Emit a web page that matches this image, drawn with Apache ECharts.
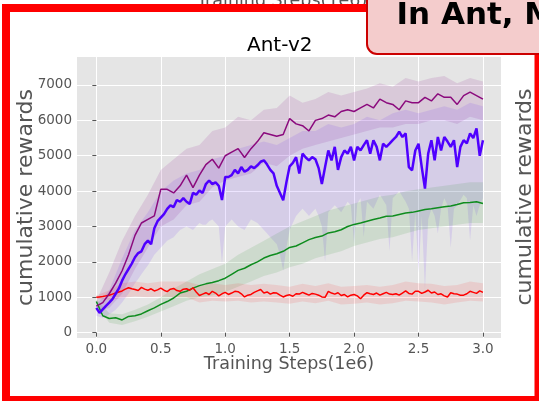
<!DOCTYPE html>
<html>
<head>
<meta charset="utf-8">
<script src="https://cdn.jsdelivr.net/npm/echarts@6/dist/echarts.min.js"></script>
<style>
html, body { margin: 0; padding: 0; background: #fff; }
#chart { width: 539px; height: 401px; }
</style>
</head>
<body>
<div id="chart"></div>
<script>
// Ant-v2 learning curves: mean cumulative reward and spread for four runs.
// Sample spacing along the x axis (units of 1e6 training steps).
const STEP_FINE = 0.025;
const STEP_LINE = 0.05;
const STEP_BAND = 0.1;

const xTicks = [0, 0.5, 1.0, 1.5, 2.0, 2.5, 3.0];
const yTicks = [0, 1000, 2000, 3000, 4000, 5000, 6000, 7000];

// Mean curves
const purpleMean = [
  750, 850, 1100, 1400, 1750, 2200, 2750, 3100, 3200, 3300,
  4050, 4050, 3950, 4150, 4450, 4100, 4450, 4750, 4900, 4650,
  5000, 5100, 5200, 4950, 5200, 5400, 5650, 5600, 5550, 5600,
  6050, 5900, 5850, 5700, 6000, 6050, 6150, 6100, 6250, 6300,
  6250, 6350, 6450, 6350, 6600, 6500, 6450, 6300, 6550, 6500,
  6500, 6650, 6550, 6750, 6650, 6650, 6450, 6700, 6800, 6700, 6600
];
const blueMean = [
  700, 560, 660, 760, 850, 950, 1100, 1250, 1470, 1650,
  1800, 1950, 2130, 2250, 2300, 2500, 2600, 2500, 2950, 3150,
  3250, 3350, 3500, 3600, 3550, 3750, 3700, 3800, 3700, 3640,
  3950, 3900, 4020, 3950, 4200, 4300, 4200, 4250, 4150, 3750,
  4400, 4400, 4450, 4600, 4500, 4680, 4550, 4600, 4700, 4650,
  4730, 4830, 4870, 4750, 4600, 4500, 4150, 3950, 3740, 4250,
  4700, 4800, 4960, 4500, 5060, 4950, 4870, 4960, 4900, 4650,
  4200, 4680, 5150, 4870, 5250, 4600, 4960, 5150, 5060, 5250,
  4870, 5250, 5150, 5300, 5440, 5060, 5440, 5250, 4870, 5340,
  5250, 5340, 5440, 5530, 5680, 5530, 5630, 4680, 4590, 5150,
  5340, 4680, 4070, 5060, 5440, 4870, 5530, 5150, 5530, 5400,
  5250, 5440, 4680, 5250, 5440, 5350, 5630, 5500, 5770, 5000, 5440
];
const greenMean = [
  880, 480, 400, 420, 360, 460, 480, 530, 620, 700,
  800, 880, 980, 1120, 1170, 1260, 1330, 1380, 1420, 1470,
  1540, 1650, 1760, 1820, 1920, 2000, 2110, 2180, 2230, 2300,
  2410, 2450, 2540, 2630, 2690, 2730, 2820, 2850, 2910, 3000,
  3060, 3100, 3150, 3200, 3240, 3290, 3300, 3340, 3380, 3400,
  3440, 3480, 3500, 3530, 3560, 3580, 3620, 3670, 3680, 3700, 3650
];
const redMean = [
  1000, 1010, 1020, 1040, 1060, 1090, 1120, 1150, 1180, 1230,
  1270, 1240, 1220, 1190, 1280, 1230, 1200, 1240, 1180, 1210,
  1260, 1200, 1160, 1230, 1250, 1190, 1170, 1230, 1240, 1200,
  1270, 1150, 1050, 1090, 1130, 1080, 1170, 1120, 1040, 1100,
  1140, 1080, 1120, 1170, 1160, 1100, 1010, 1060, 1080, 1140,
  1180, 1220, 1120, 1150, 1090, 1130, 1120, 1060, 1010, 1050,
  1070, 1030, 1100, 1090, 1140, 1100, 1060, 1110, 1090, 1060,
  1010, 1000, 1170, 1120, 1090, 1130, 1050, 1080, 1010, 1060,
  1080, 1040, 960, 1060, 1130, 1100, 1080, 1120, 1060, 1100,
  1140, 1090, 1080, 1100, 1060, 1120, 1180, 1110, 1090, 1170,
  1170, 1110, 1150, 1200, 1120, 1150, 1080, 1100, 1040, 1010,
  1130, 1100, 1090, 1060, 1060, 1100, 1170, 1140, 1110, 1180, 1140
];

// Spread bands (upper / lower edges)
const purpleUpper = [
  900, 1700, 2600, 3300, 3900, 4600, 4900, 5200, 5300, 5700,
  5800, 6100, 6000, 6300, 6350, 6700, 6500, 6600, 6800, 6700,
  6800, 6900, 7050, 6950, 7200, 7100, 7200, 7250, 7050, 7200, 7100
];
const purpleLower = [
  600, 700, 1100, 1800, 2400, 3000, 3200, 3600, 3700, 4100,
  4300, 4400, 4500, 4800, 4700, 5000, 5200, 5300, 5400, 5500,
  5600, 5700, 5800, 5800, 5900, 5900, 6000, 6000, 5900, 6100, 6000
];
const blueUpper = [
  800, 1200, 2100, 2900, 3400, 4000, 4300, 4500, 4600, 4900,
  5000, 5200, 5300, 5400, 5300, 5500, 5700, 5700, 5900, 5800,
  5900, 6100, 6000, 6200, 6300, 6200, 6300, 6400, 6300, 6500, 6400
];
const blueLower = [
  480, 440, 420, 460, 520, 580, 650, 750, 850, 980,
  1100, 1250, 1400, 1520, 1650, 1780, 1900, 2050, 2200, 2300,
  2400, 2500, 2600, 2650, 2700, 2800, 2900, 2950, 3000, 2950,
  2900, 3000, 3100, 3050, 3050, 3150, 3200, 3100, 3000, 1950,
  3000, 3100, 3200, 3100, 3000, 2950, 2900, 3050, 3200, 3150,
  3100, 3000, 2900, 2800, 2700, 2600, 2500, 2200, 1750, 2400,
  2900, 3100, 3300, 3400, 3500, 3400, 3300, 3400, 3500, 3300,
  3000, 2000, 3400, 3500, 3600, 3500, 3400, 3550, 3700, 3600,
  2500, 3650, 3800, 2700, 3700, 3600, 3500, 3700, 3900, 3750,
  3600, 2300, 3800, 3900, 4000, 3850, 3700, 3500, 2000, 3400,
  1700, 3300, 1200, 3200, 3500, 3300, 2800, 3500, 3800, 3600,
  2400, 3500, 3600, 3750, 3900, 3800, 2600, 3600, 3300, 3600, 3800
];
const greenUpper = [
  950, 550, 520, 650, 800, 1000, 1250, 1450, 1650, 1800,
  1950, 2200, 2400, 2600, 2800, 3000, 3150, 3300, 3450, 3550,
  3650, 3750, 3850, 3900, 4000, 4050, 4100, 4150, 4200, 4250, 4250
];
const greenLower = [
  800, 280, 220, 320, 450, 600, 750, 900, 1000, 1050,
  1150, 1300, 1450, 1600, 1700, 1850, 1950, 2100, 2200, 2300,
  2450, 2550, 2650, 2700, 2800, 2900, 2950, 3000, 3050, 3100, 3100
];
const redUpper = [
  1050, 1200, 1400, 1450, 1400, 1450, 1450, 1450, 1350, 1400,
  1350, 1400, 1350, 1380, 1350, 1300, 1380, 1320, 1400, 1300,
  1320, 1350, 1300, 1350, 1450, 1400, 1380, 1320, 1350, 1450, 1400
];
const redLower = [
  950, 930, 980, 1020, 1000, 1020, 1000, 1000, 850, 900,
  880, 900, 850, 880, 850, 820, 880, 830, 900, 800,
  820, 850, 800, 830, 900, 880, 850, 800, 850, 900, 880
];

const FONT = 'DejaVu Sans';
const LABEL_GRAY = '#555555';

function toPoints(values, step) {
  return values.map((v, i) => [+(i * step).toFixed(3), v]);
}

// Shaded spread drawn as a polygon through the axis scales
function bandSeries(name, upper, upperStep, lower, lowerStep, fill) {
  return {
    name: name,
    type: 'custom',
    coordinateSystem: 'cartesian2d',
    silent: true,
    z: 1,
    data: [[0, 0]],
    renderItem: function (params, api) {
      const pts = upper.map((v, i) => api.coord([i * upperStep, v]));
      for (let i = lower.length - 1; i >= 0; i--) {
        pts.push(api.coord([i * lowerStep, lower[i]]));
      }
      return { type: 'polygon', shape: { points: pts }, style: { fill: fill } };
    }
  };
}

function lineSeries(name, values, step, color, width, z) {
  return {
    name: name,
    type: 'line',
    data: toPoints(values, step),
    showSymbol: false,
    symbol: 'none',
    lineStyle: { color: color, width: width },
    z: z
  };
}

const chart = echarts.init(document.getElementById('chart'), null, { renderer: 'canvas' });

chart.setOption({
  animation: false,
  backgroundColor: '#ffffff',
  title: {
    text: 'Ant-v2',
    left: 247,
    top: 36,
    padding: 0,
    textStyle: { fontFamily: FONT, fontSize: 20, fontWeight: 'normal', color: '#000' }
  },
  grid: {
    left: 77, right: 38, top: 57, bottom: 63,
    show: true,
    backgroundColor: '#e5e5e5',
    borderWidth: 0,
    containLabel: false,
    outerBoundsMode: 'none'
  },
  xAxis: {
    type: 'value',
    min: -0.15,
    max: 3.14,
    name: 'Training Steps(1e6)',
    nameLocation: 'middle',
    nameGap: 17,
    nameMoveOverlap: false,
    nameTextStyle: { fontFamily: FONT, fontSize: 17.5, color: LABEL_GRAY },
    axisLine: { show: false },
    axisTick: { show: true, length: 4, customValues: xTicks, lineStyle: { color: LABEL_GRAY } },
    axisLabel: {
      customValues: xTicks,
      margin: 4,
      formatter: v => v.toFixed(1),
      fontFamily: FONT, fontSize: 13.5, color: LABEL_GRAY
    },
    splitLine: { show: true, lineStyle: { color: '#ffffff', width: 1 } }
  },
  yAxis: {
    type: 'value',
    min: -150,
    max: 7790,
    name: 'cumulative rewards',
    nameLocation: 'middle',
    nameRotate: 90,
    nameGap: 40,
    nameMoveOverlap: false,
    nameTextStyle: { fontFamily: FONT, fontSize: 22, color: LABEL_GRAY },
    axisLine: { show: false },
    axisTick: { show: true, length: 4, customValues: yTicks, lineStyle: { color: LABEL_GRAY } },
    axisLabel: {
      customValues: yTicks,
      margin: 5,
      formatter: v => String(v),
      fontFamily: FONT, fontSize: 13.5, color: LABEL_GRAY
    },
    splitLine: { show: true, lineStyle: { color: '#ffffff', width: 1 } }
  },
  graphic: [
    {
      type: 'text', x: 197, y: -8, z: 50,
      style: { text: 'Training Steps(1e6)', font: '17.5px "DejaVu Sans"', fill: LABEL_GRAY, align: 'left', verticalAlign: 'top' }
    },
    {
      type: 'text', x: 536.6, y: 197, rotation: Math.PI / 2, z: 50,
      style: { text: 'cumulative rewards', font: '22px "DejaVu Sans"', fill: LABEL_GRAY, align: 'center', verticalAlign: 'bottom' }
    },
    {
      type: 'rect', z: 100,
      shape: { x: 6, y: 8, width: 532.5, height: 392 },
      style: { fill: 'none', stroke: '#ff0000', lineWidth: 8 }
    },
    {
      type: 'rect', z: 110,
      shape: { x: 367, y: -20, width: 220, height: 74, r: 10 },
      style: { fill: '#f4cccc', stroke: '#cc0000', lineWidth: 2 }
    },
    {
      type: 'text', x: 396.5, y: 0.5, z: 111,
      style: { text: 'In Ant, M', font: 'bold 31px "DejaVu Sans"', fill: '#000', align: 'left', verticalAlign: 'top' }
    }
  ],
  series: [
    bandSeries('purple band', purpleUpper, STEP_BAND, purpleLower, STEP_BAND, 'rgba(128,0,128,0.12)'),
    bandSeries('blue band', blueUpper, STEP_BAND, blueLower, STEP_FINE, 'rgba(80,0,255,0.10)'),
    bandSeries('green band', greenUpper, STEP_BAND, greenLower, STEP_BAND, 'rgba(0,128,0,0.10)'),
    bandSeries('red band', redUpper, STEP_BAND, redLower, STEP_BAND, 'rgba(255,0,0,0.10)'),
    lineSeries('green', greenMean, STEP_LINE, '#0e8c1e', 1.5, 3),
    lineSeries('red', redMean, STEP_FINE, '#ff0000', 1.5, 4),
    lineSeries('blue', blueMean, STEP_FINE, '#4f00ff', 2.5, 5),
    lineSeries('purple', purpleMean, STEP_LINE, '#8b0a7d', 1.5, 6)
  ]
});
</script>
</body>
</html>
